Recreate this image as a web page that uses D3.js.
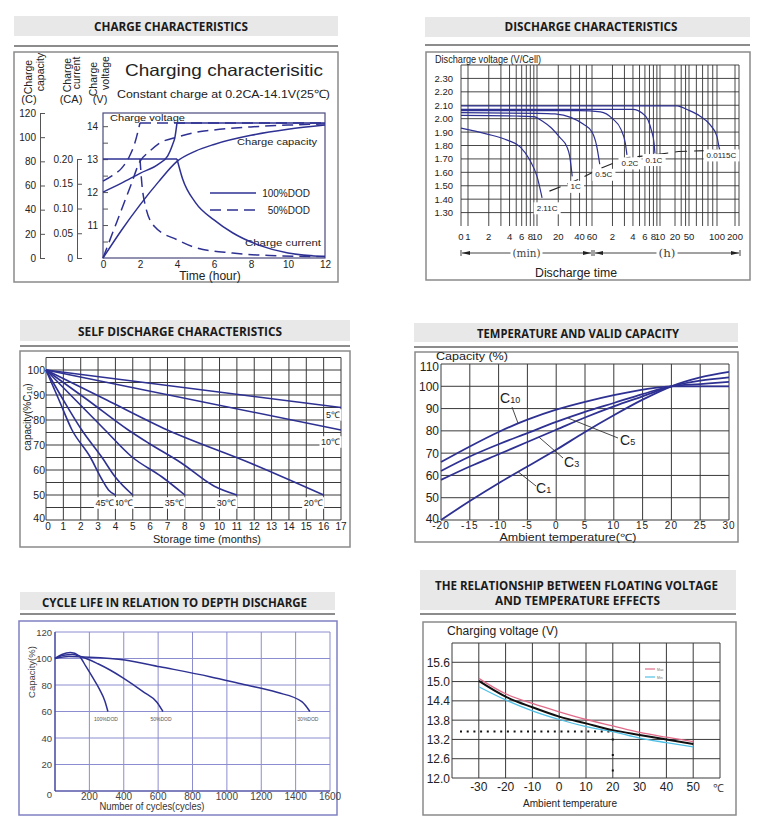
<!DOCTYPE html>
<html>
<head>
<meta charset="utf-8">
<script src="https://cdn.jsdelivr.net/npm/d3@7"></script>
<style>
  body { margin: 0; background: #fff; }
  svg { display: block; font-family: "Liberation Sans", Arial, sans-serif; }
  .ttl { font-family: "Open Sans", sans-serif; font-weight: 700; font-size: 13px; fill: #1a1a1a; }
</style>
</head>
<body>
<svg id="chart" width="773" height="835"></svg>
<script>
// ---------- charge characteristics (hours)
const chgHours = [0, 2, 4, 6, 8, 10, 12];
const chgVoltTicks = [10.5, 11, 11.5, 12, 12.5, 13, 13.5, 14];
const chgCurrentTicks = [0, 0.05, 0.1, 0.15, 0.2];
const chgCapacityTicks = [0, 20, 40, 60, 80, 100, 120];
// every series is a list of segments, a segment is a list of [hour, value]
const volt100 = [[[0, 12.0], [1, 12.27], [2, 12.57], [3, 12.85], [3.5, 13.1], [3.75, 13.42], [3.9, 13.7], [4, 14.1]], [[4, 14.1], [12, 14.1]]];
const volt50 = [[[0, 12.33], [0.5, 12.5], [1, 12.72], [1.4, 13.05], [1.7, 13.45], [2, 14.1]], [[2, 14.1], [12, 14.1]]];
const cap100 = [[[0, 0], [1, 23], [2, 44], [3, 63], [4, 80], [5, 88.5], [6, 94], [8, 101.5], [10, 106.5], [12, 110]]];
const cap50 = [[[0, 0], [0.5, 20], [1, 40], [1.5, 60], [2, 80], [2.5, 88], [3, 94.5], [4, 100], [5, 104], [6, 106], [8, 108.5], [10, 110], [12, 111]]];
const cur100 = [[[0, 0.2], [4, 0.2]], [[4, 0.2], [4.3, 0.16], [5, 0.112], [6, 0.077], [7, 0.051], [8.5, 0.025], [10, 0.01], [12, 0.003]]];
const cur50 = [[[2, 0.2], [2.1, 0.15], [2.3, 0.104], [2.8, 0.063], [4, 0.037], [5, 0.021], [7, 0.01], [9, 0.005], [12, 0.003]]];

// ---------- discharge characteristics (minutes, V/cell)
const disVoltTicks = [1.3, 1.4, 1.5, 1.6, 1.7, 1.8, 1.9, 2.0, 2.1, 2.2, 2.3];
const disTimeLabels = ['0', '1', '2', '4', '6', '8', '10', '20', '40', '60', '2', '4', '6', '8', '10', '20', '50', '100', '200'];
const disTimeMinutes = [0.75, 1, 2, 4, 6, 8, 10, 20, 40, 60, 120, 240, 360, 480, 600, 1200, 3000, 6000, 12000];
const disGridMinutes = [1, 2, 3, 4, 5, 6, 7, 8, 9, 10, 20, 30, 40, 50, 60, 120, 180, 240, 300, 360, 420, 480, 540, 600, 1200, 1800, 2400, 3000, 3600, 4200, 4800, 5400, 6000, 12000];
const disRates = ['2.11C', '1C', '0.5C', '0.2C', '0.1C', '0.0115C'];
const dis211 = [[0.75, 1.93], [1.9, 1.885], [3.7, 1.84], [5.7, 1.79], [7.9, 1.69], [10, 1.57], [11.8, 1.41]];
const dis1C = [[0.75, 2.025], [5, 2.02], [9, 2.015], [12, 1.98], [16, 1.93], [21, 1.86], [26.5, 1.79], [29, 1.72], [31.5, 1.57]];
const dis05C = [[0.75, 2.045], [10, 2.04], [18, 2.035], [30, 2.01], [45, 1.96], [60, 1.9], [70, 1.8], [78, 1.66]];
const dis02C = [[0.75, 2.06], [40, 2.06], [80, 2.05], [120, 2.0], [160, 1.92], [185, 1.82], [196, 1.73]];
const dis01C = [[0.75, 2.07], [240, 2.07], [330, 2.04], [400, 1.99], [450, 1.91], [490, 1.82], [506, 1.74]];
const dis0115C = [[0.75, 2.095], [1370, 2.095], [2740, 2.066], [3920, 2.02], [5050, 1.955], [6000, 1.866], [6470, 1.79], [6700, 1.767]];
const disCutoff = [[15, 1.46], [40, 1.55], [80, 1.63], [200, 1.71], [500, 1.73], [1500, 1.755], [6700, 1.765]];

// ---------- self discharge (months, % C10)
const sdMonths = [0, 1, 2, 3, 4, 5, 6, 7, 8, 9, 10, 11, 12, 13, 14, 15, 16, 17];
const sdCapLabels = [40, 50, 60, 70, 80, 90, 100];
const sdCapGrid = [40, 45, 50, 55, 60, 65, 70, 75, 80, 85, 90, 95, 100, 105];
const sdTemps = ['5℃', '10℃', '20℃', '30℃', '35℃', '40℃', '45℃'];
const sd5 = [[0, 100], [17, 85]];
const sd10 = [[0, 100], [17, 76]];
const sd20 = [[0, 100], [3.5, 88], [7, 76], [11.8, 62.7], [16, 50]];
const sd30 = [[0, 100], [2.4, 88], [4.74, 76], [5.9, 70.8], [7.8, 62.8], [9.7, 53.5], [11, 50]];
const sd35 = [[0, 100], [1.7, 88], [3.4, 76], [4.94, 65.3], [6.67, 57.3], [8, 50]];
const sd40 = [[0, 100], [1, 88], [2.06, 76], [3.2, 65.3], [3.98, 57.3], [5, 50]];
const sd45 = [[0, 100], [0.75, 88], [1.5, 76], [2.54, 65.3], [3.2, 56.5], [3.6, 52], [4, 50]];

// ---------- temperature and valid capacity (deg C, %)
const tcTemps = [-20, -15, -10, -5, 0, 5, 10, 15, 20, 25, 30];
const tcCapTicks = [40, 50, 60, 70, 80, 90, 100, 110];
const capC1 = [[-20, 40], [-15, 48.5], [-10, 56.5], [-5, 64], [0, 71.5], [5, 79.5], [10, 87], [15, 94], [20, 100], [25, 104], [30, 106.5]];
const capC3 = [[-20, 58], [-15, 64], [-10, 69.5], [-5, 75], [0, 80.5], [5, 86], [10, 91], [15, 95.5], [20, 100], [25, 102.5], [30, 104]];
const capC5 = [[-20, 62], [-15, 68.5], [-10, 74], [-5, 79], [0, 84], [5, 88.5], [10, 92.5], [15, 96.5], [20, 100], [25, 101], [30, 102]];
const capC10 = [[-20, 66], [-15, 73], [-10, 79.5], [-5, 85], [0, 89.5], [5, 93], [10, 96], [15, 98.5], [20, 100], [25, 100], [30, 100]];

// ---------- cycle life (cycles, %)
const cycTicks = [0, 200, 400, 600, 800, 1000, 1200, 1400, 1600];
const cycCapTicks = [0, 20, 40, 60, 80, 100, 120];
const dod100 = [[0, 100], [40, 103], [90, 104.5], [140, 102], [180, 94], [220, 85.5], [260, 76.5], [290, 68], [308, 60]];
const dod50 = [[0, 100], [50, 102.5], [100, 103], [150, 101.5], [250, 96], [320, 91.3], [400, 85], [512, 75], [593, 67], [628, 60]];
const dod30 = [[0, 100], [80, 101.5], [200, 101], [407, 98.9], [610, 93.8], [901, 86.3], [1093, 80.5], [1291, 74.5], [1436, 67.4], [1483, 60]];
const dodNames = ['100%DOD', '50%DOD', '30%DOD'];

// ---------- floating voltage vs temperature (deg C, V)
const fvTempTicks = [-30, -20, -10, 0, 10, 20, 30, 40, 50];
const fvTempGrid = [-40, -30, -20, -10, 0, 10, 20, 30, 40, 50, 60];
const fvVoltTicks = [12.0, 12.6, 13.2, 13.8, 14.4, 15.0, 15.6, 16.2];
const fvStd = [[-30, 15.02], [-20, 14.53], [-10, 14.2], [0, 13.91], [10, 13.7], [20, 13.49], [30, 13.34], [40, 13.2], [50, 13.06]];
const fvMax = [[-30, 15.1], [-20, 14.62], [-10, 14.32], [0, 14.06], [10, 13.82], [20, 13.62], [30, 13.42], [40, 13.27], [50, 13.13]];
const fvMin = [[-30, 14.84], [-20, 14.43], [-10, 14.09], [0, 13.82], [10, 13.6], [20, 13.44], [30, 13.24], [40, 13.1], [50, 12.97]];
const fvRefTemp = 20;
const fvRefVolt = 13.45;

const svg = d3.select('#chart');
const NAVY = '#2e3192';
const GRID = '#333';
const FONT = '"Liberation Sans", Arial, sans-serif';

function header(x0, x1, y0, y1, rows, ruleY) {
  svg.append('rect').attr('x', x0).attr('y', y0).attr('width', x1 - x0).attr('height', y1 - y0).attr('fill', '#e8e8e8');
  rows.forEach(r => svg.append('text').attr('class', 'ttl')
    .attr('x', r.x).attr('y', r.y).attr('text-anchor', 'middle')
    .attr('textLength', r.w).attr('lengthAdjust', 'spacingAndGlyphs').text(r.t));
  svg.append('line').attr('x1', x0).attr('x2', x1).attr('y1', ruleY).attr('y2', ruleY)
    .attr('stroke', '#8c8c8c').attr('stroke-width', 2);
}

function frame(x0, y0, x1, y1, color) {
  svg.append('rect').attr('x', x0).attr('y', y0).attr('width', x1 - x0).attr('height', y1 - y0)
    .attr('fill', 'none').attr('stroke', color || '#8a8a8a').attr('stroke-width', 1.5);
}

function label(g, str, x, y, size, o = {}) {
  const t = g.append('text').attr('x', x).attr('y', y).attr('font-size', size)
    .attr('fill', o.fill || '#222').text(str);
  if (o.anchor) t.attr('text-anchor', o.anchor);
  if (o.len) t.attr('textLength', o.len).attr('lengthAdjust', 'spacingAndGlyphs');
  if (o.rotate) t.attr('transform', `rotate(-90,${x},${y})`);
  if (o.family) t.attr('font-family', o.family);
  if (o.spacing) t.attr('letter-spacing', o.spacing);
  if (o.bg) {
    const b = t.node().getBBox();
    g.insert('rect', () => t.node()).attr('x', b.x - o.bg).attr('y', b.y - o.bg / 2)
      .attr('width', b.width + 2 * o.bg).attr('height', b.height + o.bg).attr('fill', '#fff');
  }
  return t;
}

function draw(g, segs, x, y, o = {}) {
  const line = d3.line().x(d => x(d[0])).y(d => y(d[1])).curve(o.curve || d3.curveMonotoneX);
  g.selectAll(null).data(segs).join('path').attr('d', line).attr('fill', 'none')
    .attr('stroke', o.color || NAVY).attr('stroke-width', o.width || 1.5)
    .attr('stroke-dasharray', o.dash || null);
}

function styleAxis(a, size, color) {
  a.attr('font-family', FONT).attr('font-size', size);
  a.selectAll('.domain, .tick line').attr('stroke', color || '#555');
  a.selectAll('text').attr('fill', '#222');
}

function grid(g, xs, ys, x, y, color, width) {
  const [x0, x1] = x.range(), [y0, y1] = y.range();
  g.selectAll(null).data(xs).join('line').attr('x1', d => x(d)).attr('x2', d => x(d))
    .attr('y1', y0).attr('y2', y1).attr('stroke', color || GRID).attr('stroke-width', width || 1);
  g.selectAll(null).data(ys).join('line').attr('y1', d => y(d)).attr('y2', d => y(d))
    .attr('x1', x0).attr('x2', x1).attr('stroke', color || GRID).attr('stroke-width', width || 1);
}

// ================= 1. charge characteristics
{
  header(14, 338, 16, 36, [{ t: 'CHARGE CHARACTERISTICS', x: 171, y: 31, w: 154 }], 46);
  frame(14, 52, 338, 282);
  const g = svg.append('g');
  const x = d3.scaleLinear().domain([0, 12]).range([103, 325]);
  const yV = d3.scaleLinear().domain([10, 14.4]).range([258, 113]);
  const yA = d3.scaleLinear().domain([0, 0.2]).range([258, 159]);
  const yC = d3.scaleLinear().domain([0, 120]).range([258, 113]);

  g.append('rect').attr('x', 103).attr('y', 113).attr('width', 222).attr('height', 145)
    .attr('fill', 'none').attr('stroke', '#4a4a7c').attr('stroke-width', 1.2);

  const aC = g.append('g').attr('transform', 'translate(40,0)')
    .call(d3.axisLeft(yC).tickValues(chgCapacityTicks).tickSize(-5).tickSizeOuter(0).tickPadding(4));
  styleAxis(aC, 10);
  const aA = g.append('g').attr('transform', 'translate(77,0)')
    .call(d3.axisLeft(yA).tickValues(chgCurrentTicks).tickSize(-5).tickSizeOuter(0).tickPadding(4)
      .tickFormat(d => d === 0 ? '0' : d3.format('.2f')(d)));
  styleAxis(aA, 10);
  const aV = g.append('g').attr('transform', 'translate(103,0)')
    .call(d3.axisLeft(yV).tickValues(chgVoltTicks).tickSize(-5).tickSizeOuter(0).tickPadding(5)
      .tickFormat(d => Number.isInteger(d) ? d : ''));
  styleAxis(aV, 10);
  aV.select('.domain').remove();
  const aT = g.append('g').attr('transform', 'translate(0,258)')
    .call(d3.axisBottom(x).tickValues(chgHours).tickSize(0).tickPadding(3));
  styleAxis(aT, 10);
  aT.select('.domain').remove();

  label(g, 'Charging characterisitic', 125, 76, 16.5, { len: 198 });
  label(g, 'Constant charge at 0.2CA-14.1V(25℃)', 117, 98, 11.5, { len: 213 });
  [['Charge', 32, 77], ['capacity', 44, 72], ['Charge', 71, 75], ['current', 80, 73], ['Charge', 97, 79], ['voltage', 108.5, 73]]
    .forEach(([s, px, py]) => label(g, s, px, py, 10.5, { anchor: 'middle', rotate: true }));
  [['(C)', 29], ['(CA)', 71], ['(V)', 100]].forEach(([s, px]) => label(g, s, px, 103, 11, { anchor: 'middle' }));
  label(g, 'Time (hour)', 210, 280, 12, { anchor: 'middle' });
  label(g, 'Charge voltage', 110, 120.5, 9.5, { len: 75 });
  label(g, 'Charge capacity', 237, 145, 9.5, { len: 80 });
  label(g, 'Charge current', 245, 246, 9.5, { len: 76 });

  draw(g, cur100, x, yA);
  draw(g, cur50, x, yA, { dash: '11,6' });
  draw(g, cap100, x, yC);
  draw(g, cap50, x, yC, { dash: '11,6' });
  draw(g, volt50, x, yV, { dash: '11,6' });
  draw(g, volt100, x, yV);

  g.append('line').attr('x1', 210).attr('x2', 256).attr('y1', 193).attr('y2', 193).attr('stroke', NAVY).attr('stroke-width', 1.5);
  g.append('line').attr('x1', 210).attr('x2', 257).attr('y1', 210).attr('y2', 210).attr('stroke', NAVY).attr('stroke-width', 1.5).attr('stroke-dasharray', '11,6');
  label(g, '100%DOD', 310, 197, 10, { anchor: 'end' });
  label(g, '50%DOD', 310, 214, 10, { anchor: 'end' });
}

// ================= 2. discharge characteristics
{
  header(425, 750, 17, 37, [{ t: 'DISCHARGE CHARACTERISTICS', x: 591, y: 31, w: 173 }], 45);
  frame(426, 52, 750, 280);
  const g = svg.append('g');
  // the original time axis is hand drawn: log spacing inside each labelled span
  const x = d3.scaleLog().domain([0.75, 1, 10, 60, 600, 1200, 3000, 6000, 12000, 14000])
    .range([461, 468, 537, 592, 660, 675, 689, 717, 735, 739]);
  const y = d3.scaleLinear().domain([1.2, 2.4]).range([226, 65]);

  g.selectAll(null).data([0.75].concat(disGridMinutes, [14000])).join('line')
    .attr('x1', d => x(d)).attr('x2', d => x(d)).attr('y1', 65).attr('y2', 226)
    .attr('stroke', GRID).attr('stroke-width', 0.9);
  g.selectAll(null).data(disVoltTicks.concat([2.4])).join('line')
    .attr('x1', 461).attr('x2', 739).attr('y1', d => y(d)).attr('y2', d => y(d))
    .attr('stroke', GRID).attr('stroke-width', 0.9);

  label(g, 'Discharge voltage (V/Cell)', 435, 63, 10.5, { len: 106 });
  g.selectAll(null).data(disVoltTicks).join('text').attr('x', 453).attr('y', d => y(d) + 3.5)
    .attr('text-anchor', 'end').attr('font-size', 9.5).attr('fill', '#222').text(d => d.toFixed(2));
  g.selectAll(null).data(disTimeMinutes).join('text').attr('x', d => x(d)).attr('y', 240)
    .attr('text-anchor', 'middle').attr('font-size', 9.5).attr('fill', '#222').text((d, i) => disTimeLabels[i]);

  const curves = [dis211, dis1C, dis05C, dis02C, dis01C, dis0115C];
  draw(g, curves.map(c => [c]).flat(), x, y, { width: 1.2 });
  draw(g, [disCutoff], x, y, { dash: '12,7', color: '#222', width: 1.1, curve: d3.curveLinear });
  const offs = [[5, 13], [3.5, 13], [4, 13], [3, 11], [-1, 9], [1.5, 8]];
  curves.forEach((c, i) => {
    const e = c[c.length - 1];
    label(g, disRates[i], x(e[0]) + offs[i][0], y(e[1]) + offs[i][1], 8, { anchor: 'middle', bg: 3 });
  });

  // (min) and (h) spans
  const ay = 253;
  const spans = [[x(0.75), x(60), '(min)', 28], [x(60) + 2, 740, '(h)', 17]];
  spans.forEach(([a, b, s, w]) => {
    const mid = (a + b) / 2;
    g.append('line').attr('x1', a + 1).attr('x2', mid - w / 2 - 2).attr('y1', ay).attr('y2', ay).attr('stroke', '#444');
    g.append('line').attr('x1', mid + w / 2 + 2).attr('x2', b - 1).attr('y1', ay).attr('y2', ay).attr('stroke', '#444');
    [a, b].forEach(p => g.append('line').attr('x1', p).attr('x2', p).attr('y1', ay - 3).attr('y2', ay + 3).attr('stroke', '#444'));
    g.append('path').attr('d', `M${a + 1},${ay}l8,-2v4z`).attr('fill', '#222');
    g.append('path').attr('d', `M${b - 1},${ay}l-8,-2v4z`).attr('fill', '#222');
    label(g, s, mid, ay + 4, 10.5, { anchor: 'middle', family: '"DejaVu Serif", serif', len: w, fill: '#444' });
  });
  label(g, 'Discharge time', 576, 277, 12.5, { anchor: 'middle', len: 82 });
}

// ================= 3. self discharge
{
  header(20, 350, 320, 341, [{ t: 'SELF DISCHARGE CHARACTERISTICS', x: 180, y: 336, w: 204 }], 346);
  frame(20, 351, 350, 547);
  const g = svg.append('g');
  const x = d3.scaleLinear().domain([0, 17]).range([46, 341]);
  const y = d3.scaleLinear().domain([40, 105]).range([520, 357.5]);
  grid(g, sdMonths, sdCapGrid, x, y, '#3a3a3a', 1);
  g.selectAll(null).data(sdCapLabels).join('text').attr('x', 45).attr('y', d => y(d) + 4 - (d === 40 ? 2 : 0))
    .attr('text-anchor', 'end').attr('font-size', 10.5).attr('fill', '#222').text(d => d);
  g.selectAll(null).data(sdMonths).join('text').attr('x', d => x(d) + (d === 0 ? 2 : 0)).attr('y', 530)
    .attr('text-anchor', 'middle').attr('font-size', 10).attr('fill', '#222').text(d => d);
  label(g, 'Storage time (months)', 207, 543, 11.5, { anchor: 'middle', len: 108 });
  const yl = label(g, 'capacity(%C', 31, 417, 10, { anchor: 'middle', rotate: true });
  yl.append('tspan').attr('font-size', 7).attr('dy', 1).text('10');
  yl.append('tspan').attr('dy', -1).text(')');

  const series = [sd5, sd10, sd20, sd30, sd35, sd40, sd45];
  draw(g, series, x, y, { width: 1.6 });
  const offs = [[-1, 10.5], [-1, 15], [-1, 11], [-1, 11], [-1, 11], [0, 11], [-1, 11]];
  series.forEach((s, i) => {
    const e = s[s.length - 1];
    label(g, sdTemps[i], x(e[0]) + offs[i][0], y(e[1]) + offs[i][1], 9, { anchor: 'end', bg: 1.5 });
  });
}

// ================= 4. temperature and valid capacity
{
  header(414, 738, 323, 342, [{ t: 'TEMPERATURE AND VALID CAPACITY', x: 578, y: 338, w: 202 }], 347);
  frame(415, 352, 738, 542);
  const g = svg.append('g');
  const x = d3.scaleLinear().domain([-20, 30]).range([441, 729]);
  const y = d3.scaleLinear().domain([40, 110]).range([520, 364]);
  grid(g, tcTemps, tcCapTicks, x, y, '#3a3a3a', 1);
  g.selectAll(null).data(tcCapTicks).join('text').attr('x', 439).attr('y', d => y(d) + 4.5 + (d === 110 ? 2 : 0) - (d === 40 ? 2 : 0))
    .attr('text-anchor', 'end').attr('font-size', 12).attr('fill', '#222').text(d => d);
  g.selectAll(null).data(tcTemps).join('text').attr('x', d => x(d)).attr('y', 529)
    .attr('text-anchor', 'middle').attr('font-size', 10).attr('letter-spacing', 1).attr('fill', '#222').text(d => d);
  label(g, 'Capacity (%)', 436, 360, 11, { len: 72 });
  label(g, 'Ambient temperature(℃)', 568, 540.5, 10, { anchor: 'middle', len: 137 });

  const series = [capC1, capC3, capC5, capC10];
  draw(g, series, x, y, { width: 1.8 });
  const names = [['1', 536, 493], ['3', 564, 467], ['5', 620, 445], ['10', 500, 403]];
  const leaders = [[-6.6, capC1, 536, 486], [-3, capC3, 563, 458], [2, capC5, 618, 438], [-6.6, capC10, 512, 407]];
  leaders.forEach(([t, s, lx, ly]) => {
    const v = d3.scaleLinear().domain(s.map(d => d[0])).range(s.map(d => d[1]))(t);
    g.append('line').attr('x1', x(t)).attr('y1', y(v)).attr('x2', lx).attr('y2', ly).attr('stroke', '#333').attr('stroke-width', 0.9);
  });
  names.forEach(([n, px, py]) => {
    const t = label(g, 'C', px, py, 14);
    t.append('tspan').attr('font-size', 9).text(n);
  });
}

// ================= 5. cycle life
{
  header(20, 335, 592, 610, [{ t: 'CYCLE LIFE IN RELATION TO DEPTH DISCHARGE', x: 174.5, y: 607, w: 265 }], 614);
  frame(19, 621, 337, 815, '#8080c4');
  const g = svg.append('g');
  const x = d3.scaleLinear().domain([0, 1600]).range([55, 330]);
  const y = d3.scaleLinear().domain([0, 120]).range([791, 632]);
  grid(g, cycTicks, cycCapTicks, x, y, '#8c8cd0', 1);
  g.append('line').attr('x1', 55).attr('x2', 55).attr('y1', 632).attr('y2', 791).attr('stroke', '#3c3c96').attr('stroke-width', 1.2);
  g.append('line').attr('x1', 55).attr('x2', 330).attr('y1', 791).attr('y2', 791).attr('stroke', '#3c3c96').attr('stroke-width', 1.2);
  g.selectAll(null).data(cycCapTicks).join('text').attr('x', 52).attr('y', d => y(d) + 3.5 + (d === 0 ? 3 : 0))
    .attr('text-anchor', 'end').attr('font-size', 9.5).attr('fill', '#444').text(d => d);
  g.selectAll(null).data(cycTicks.slice(1)).join('text').attr('x', d => x(d)).attr('y', 800)
    .attr('text-anchor', 'middle').attr('font-size', 10).attr('fill', '#444').text(d => d);
  label(g, 'Capacity(%)', 35, 672, 9.5, { anchor: 'middle', rotate: true, fill: '#444' });
  label(g, 'Number of cycles(cycles)', 152, 810, 10, { anchor: 'middle', len: 105, fill: '#333' });

  const series = [dod100, dod50, dod30];
  draw(g, series, x, y, { width: 1.5 });
  series.forEach((s, i) => {
    const e = s[s.length - 1];
    label(g, dodNames[i], x(e[0]) - 2, y(e[1]) + 9, 5, { anchor: 'middle', fill: '#555' });
  });
}

// ================= 6. floating voltage vs temperature
{
  header(420, 736, 570, 610, [{ t: 'THE RELATIONSHIP BETWEEN FLOATING VOLTAGE', x: 576.5, y: 590, w: 283 },
    { t: 'AND TEMPERATURE EFFECTS', x: 577.5, y: 605, w: 165 }], 614);
  frame(423, 622, 736, 815);
  const g = svg.append('g');
  const x = d3.scaleLinear().domain([-40, 60]).range([452, 720]);
  const y = d3.scaleLinear().domain([12, 16.2]).range([778, 643]);
  grid(g, fvTempGrid, fvVoltTicks, x, y, '#3a3a3a', 1);
  g.selectAll(null).data(fvVoltTicks.slice(0, -1)).join('text').attr('x', 450).attr('y', d => y(d) + 4.5)
    .attr('text-anchor', 'end').attr('font-size', 12).attr('fill', '#222').text(d => d.toFixed(1));
  g.selectAll(null).data(fvTempTicks).join('text').attr('x', d => x(d)).attr('y', 791)
    .attr('text-anchor', 'middle').attr('font-size', 12).attr('fill', '#222').text(d => d);
  label(g, '℃', 718, 792, 11, { anchor: 'middle', fill: '#444' });
  label(g, 'Charging voltage (V)', 447, 635, 12.5, { len: 111 });
  label(g, 'Ambient temperature', 570, 807, 11, { anchor: 'middle', len: 94 });

  // reference dotted lines
  g.append('line').attr('x1', 460).attr('x2', x(fvRefTemp)).attr('y1', y(fvRefVolt)).attr('y2', y(fvRefVolt))
    .attr('stroke', '#111').attr('stroke-width', 2).attr('stroke-dasharray', '2,4.7');
  g.append('line').attr('x1', x(fvRefTemp)).attr('x2', x(fvRefTemp)).attr('y1', y(13.2) - 1).attr('y2', y(12.1))
    .attr('stroke', '#111').attr('stroke-width', 2).attr('stroke-dasharray', '2,13.5');

  draw(g, [fvMax], x, y, { color: '#e06c8a', width: 1.3 });
  draw(g, [fvMin], x, y, { color: '#4fc0e6', width: 1.3 });
  draw(g, [fvStd], x, y, { color: '#111', width: 2 });

  g.append('line').attr('x1', 645).attr('x2', 655).attr('y1', 669).attr('y2', 669).attr('stroke', '#e06c8a').attr('stroke-width', 1.2);
  g.append('line').attr('x1', 645).attr('x2', 655).attr('y1', 677).attr('y2', 677).attr('stroke', '#4fc0e6').attr('stroke-width', 1.2);
  label(g, 'Max', 657, 670.5, 3.5, { fill: '#777' });
  label(g, 'Min', 657, 678.5, 3.5, { fill: '#777' });
}
</script>
</body>
</html>
